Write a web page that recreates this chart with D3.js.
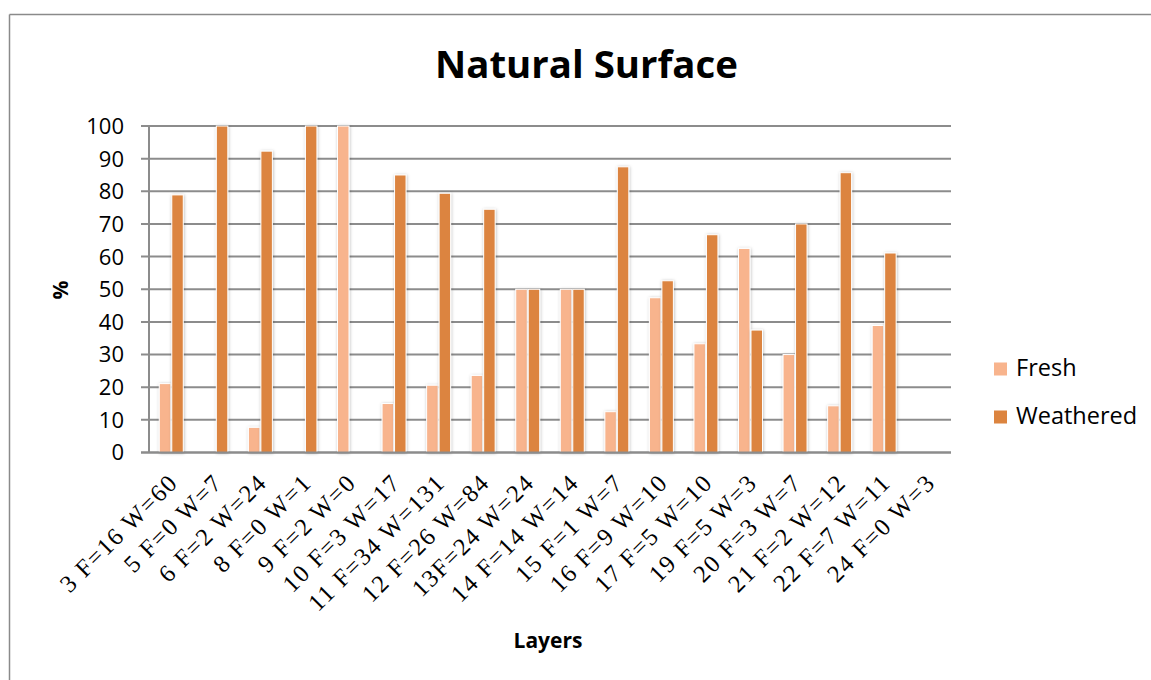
<!DOCTYPE html>
<html>
<head>
<meta charset="utf-8">
<script src="https://cdn.jsdelivr.net/npm/d3@7"></script>
<style>
  html, body { margin: 0; padding: 0; background: #fff; }
  svg { display: block; }
</style>
</head>
<body>
<div id="chart"></div>
<script>
// ---- data ----
const categories = ["3 F=16 W=60", "5 F=0 W=7", "6 F=2 W=24", "8 F=0 W=1", "9 F=2 W=0",
  "10 F=3 W=17", "11 F=34 W=131", "12 F=26 W=84", "13F=24 W=24", "14 F=14 W=14",
  "15 F=1 W=7", "16 F=9 W=10", "17 F=5 W=10", "19 F=5 W=3", "20 F=3 W=7",
  "21 F=2 W=12", "22 F=7 W=11", "24 F=0 W=3"];
const seriesNames = ["Fresh", "Weathered"];
const freshValues = [21.1, 0, 7.7, 0, 100, 15, 20.6, 23.6, 50, 50, 12.5, 47.4, 33.3, 62.5, 30, 14.3, 38.9, 0];
const weatheredValues = [78.9, 100, 92.3, 100, 0, 85, 79.4, 74.5, 50, 50, 87.5, 52.6, 66.7, 37.5, 70, 85.7, 61.1, 0];
const yTicks = [0, 10, 20, 30, 40, 50, 60, 70, 80, 90, 100];
const titleText = "Natural Surface";
const xTitle = "Layers";
const yTitle = "%";

const colors = { Fresh: "#F8B48D", Weathered: "#DC843F" };
const SANS = "'Open Sans', Lato, sans-serif";

const W = 1151, H = 680;
const plot = { left: 149, right: 951, top: 126, bottom: 452.5 };

const svg = d3.select("#chart").append("svg").attr("width", W).attr("height", H);

// drop shadow filter
const defs = svg.append("defs");
const f = defs.append("filter").attr("id", "shadow").attr("x", "-50%").attr("y", "-10%").attr("width", "200%").attr("height", "120%");
f.append("feDropShadow").attr("dx", 0.5).attr("dy", 0.5).attr("stdDeviation", 1.6)
  .attr("flood-color", "#000").attr("flood-opacity", 0.28);

// outer border (top & left only visible)
svg.append("line").attr("x1", 9.5).attr("x2", W).attr("y1", 14.5).attr("y2", 14.5)
  .attr("stroke", "#8a8a8a").attr("stroke-width", 1.5);
svg.append("line").attr("x1", 9.5).attr("x2", 9.5).attr("y1", 14.5).attr("y2", H)
  .attr("stroke", "#8a8a8a").attr("stroke-width", 1.5);

const x0 = d3.scaleBand().domain(categories).range([plot.left, plot.right])
  .paddingInner(0.462).paddingOuter(0.231);
const x1 = d3.scaleBand().domain(seriesNames).range([0, x0.bandwidth()]).paddingInner(0.08);
const y = d3.scaleLinear().domain([0, 100]).range([plot.bottom, plot.top]);

// gridlines
svg.append("g").selectAll("line").data(yTicks).join("line")
  .attr("x1", plot.left - 8).attr("x2", plot.right)
  .attr("y1", d => y(d)).attr("y2", d => y(d))
  .attr("stroke", "#8c8c8c").attr("stroke-width", 2);

// y axis line
svg.append("line").attr("x1", plot.left).attr("x2", plot.left)
  .attr("y1", plot.top).attr("y2", plot.bottom)
  .attr("stroke", "#8c8c8c").attr("stroke-width", 2);

// y tick labels
svg.append("g").selectAll("text").data(yTicks).join("text")
  .attr("x", 124).attr("y", d => y(d)).attr("dy", "0.36em")
  .attr("text-anchor", "end")
  .attr("font-family", SANS).attr("font-size", 22)
  .attr("fill", "#000").text(d => d);

// bars
const rows = categories.map((c, i) => ({ cat: c, vals: [
  { s: "Fresh", v: freshValues[i] }, { s: "Weathered", v: weatheredValues[i] }] }));
const groups = svg.append("g").selectAll("g").data(rows).join("g")
  .attr("transform", d => `translate(${x0(d.cat)},0)`);
groups.selectAll("rect").data(d => d.vals.filter(e => e.v > 0)).join("rect")
  .attr("x", d => x1(d.s)).attr("width", x1.bandwidth())
  .attr("y", d => y(d.v)).attr("height", d => y(0) - y(d.v))
  .attr("fill", d => colors[d.s]).attr("stroke", "#fff").attr("stroke-width", 1)
  .attr("filter", "url(#shadow)");

// x axis line
svg.append("line").attr("x1", plot.left - 8).attr("x2", plot.right)
  .attr("y1", plot.bottom).attr("y2", plot.bottom)
  .attr("stroke", "#8c8c8c").attr("stroke-width", 2);

// x labels
svg.append("g").selectAll("text").data(categories).join("text")
  .attr("transform", d => `translate(${x0(d) + x0.bandwidth() / 2 + 8},${484}) rotate(-45)`)
  .attr("text-anchor", "end")
  .attr("font-family", "'Liberation Serif', 'Times New Roman', serif").attr("font-size", 24.5)
  .attr("letter-spacing", 1.6)
  .attr("fill", "#000").text(d => d);

// title (fit to measured width)
const t = svg.append("text").attr("x", 586.5).attr("y", 78).attr("text-anchor", "middle")
  .attr("font-family", SANS).attr("font-weight", "bold")
  .attr("font-size", 37).attr("fill", "#000").text(titleText);
const tw = t.node().getComputedTextLength();
t.attr("font-size", 37 * 303 / tw);

// axis titles
svg.append("text").attr("x", 548).attr("y", 648).attr("text-anchor", "middle")
  .attr("font-family", SANS).attr("font-weight", "bold")
  .attr("font-size", 21).attr("fill", "#000").text(xTitle);
svg.append("text").attr("transform", "translate(68,290) rotate(-90)").attr("text-anchor", "middle")
  .attr("font-family", SANS).attr("font-weight", "bold")
  .attr("font-size", 21).attr("fill", "#000").text(yTitle);

// legend
const leg = svg.append("g").selectAll("g").data(seriesNames).join("g")
  .attr("transform", (d, i) => `translate(994,${362.5 + i * 48})`);
leg.append("rect").attr("width", 13).attr("height", 13).attr("fill", d => colors[d]);
leg.append("text").attr("x", 22).attr("y", 13.5)
  .attr("font-family", SANS).attr("font-size", 23.5)
  .attr("fill", "#000").text(d => d);
</script>
</body>
</html>
